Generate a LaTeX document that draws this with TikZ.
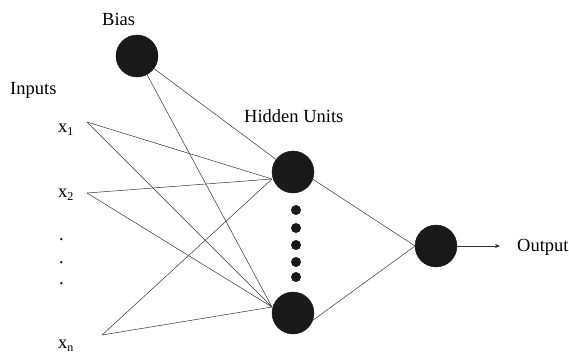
\documentclass[tikz,border=0pt]{standalone}
\usepackage{fontspec}
\setmainfont{Liberation Serif}
\usetikzlibrary{arrows.meta}
\begin{document}
\begin{tikzpicture}[x=1pt,y=-1pt,
  neuron/.style={circle,fill=black!90,draw=black!90,minimum size=42pt,inner sep=0pt},
  smalldot/.style={circle,fill=black!90,minimum size=10pt,inner sep=0pt},
  lbl/.style={anchor=base west,inner sep=0pt,font=\fontsize{18.5}{20}\selectfont},
  wire/.style={line width=0.5pt,draw=black!80},
  every node/.append style={}]
\useasboundingbox (0,0) rectangle (569,357);
% neurons
\node[neuron] (bias) at (137,56) {};
\node[neuron] (ht) at (293,172) {};
\node[neuron] (hb) at (293,313) {};
\node[neuron] (out) at (436,246) {};
% small dots between hidden units
\node[smalldot] (d1) at (296,210) {};
\node[smalldot] (d2) at (296,228) {};
\node[smalldot] (d3) at (296,245) {};
\node[smalldot] (d4) at (296,262) {};
\node[smalldot] (d5) at (296,277) {};
% labels
\node[lbl] (tbias) at (102,25) {Bias};
\node[lbl] (tinputs) at (10,94) {Inputs};
\node[lbl] (thidden) at (244,122) {Hidden Units};
\node[lbl] (toutput) at (517,251) {Output};
\node[lbl] (tx1) at (58,132) {x\raisebox{-0.45ex}{\fontsize{12}{12}\selectfont 1}};
\node[lbl] (tx2) at (58,197) {x\raisebox{-0.45ex}{\fontsize{12}{12}\selectfont 2}};
\node[lbl] (txn) at (58,348) {x\raisebox{-0.45ex}{\fontsize{12}{12}\selectfont n}};
\node[lbl] (p1) at (59,240) {.};
\node[lbl] (p2) at (59,263) {.};
\node[lbl] (p3) at (59,284) {.};
% wire end points
\coordinate (i1) at (87,122);
\coordinate (i2) at (87,193);
\coordinate (in) at (102,335);
\coordinate (ct) at (272,179);
\coordinate (cb) at (272,307);
\coordinate (co) at (415,246);
\coordinate (arr) at (500,246);
% connections
\draw[wire] (i1) -- (ct);
\draw[wire] (i1) -- (cb);
\draw[wire] (i2) -- (ct);
\draw[wire] (i2) -- (cb);
\draw[wire] (in) -- (ct);
\draw[wire] (in) -- (cb);
\draw[wire] (bias) -- (ht);
\draw[wire] (bias) -- (cb);
\draw[wire] (ht.-20) -- (co);
\draw[wire] (hb.-20) -- (co);
\draw[wire,-{Stealth[length=5pt,width=4pt]}] (out) -- (arr);
\end{tikzpicture}
\end{document}
